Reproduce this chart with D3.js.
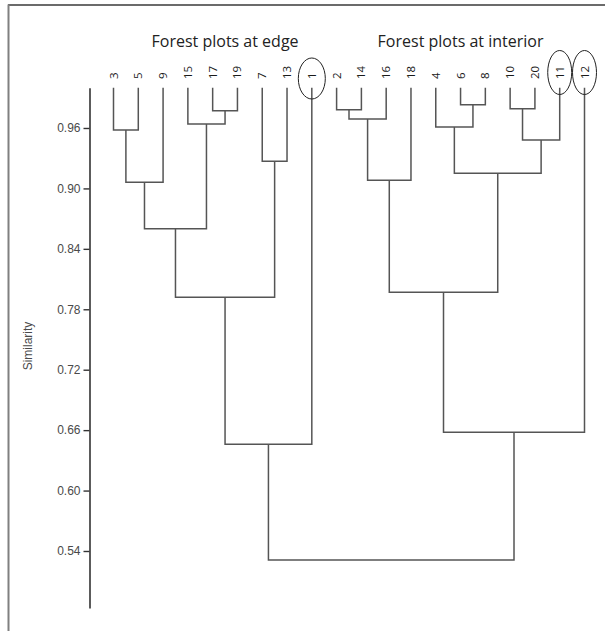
<!DOCTYPE html>
<html>
<head>
<meta charset="utf-8">
<script src="https://cdn.jsdelivr.net/npm/d3@7"></script>
<style>
  body { margin: 0; background: #fff; }
  svg { display: block; }
</style>
</head>
<body>
<script>
const width = 605;
const height = 631;

// leaf order along the bottom of the dendrogram
const leaves = ["3", "5", "9", "15", "17", "19", "7", "13", "1",
                "2", "14", "16", "18", "4", "6", "8", "10", "20", "11", "12"];

// merges: [id, left child, right child, similarity]
const merges = [
  ["m1", "3", "5", 0.958],
  ["m2", "m1", "9", 0.906],
  ["m3", "17", "19", 0.977],
  ["m4", "15", "m3", 0.964],
  ["m5", "m2", "m4", 0.860],
  ["m6", "7", "13", 0.927],
  ["m7", "m5", "m6", 0.792],
  ["m8", "m7", "1", 0.646],
  ["m9", "2", "14", 0.978],
  ["m10", "m9", "16", 0.969],
  ["m11", "m10", "18", 0.908],
  ["m12", "6", "8", 0.983],
  ["m13", "4", "m12", 0.961],
  ["m14", "10", "20", 0.979],
  ["m15", "m14", "11", 0.948],
  ["m16", "m13", "m15", 0.915],
  ["m17", "m11", "m16", 0.797],
  ["m18", "m17", "12", 0.658],
  ["m19", "m8", "m18", 0.531]
];

const tickValues = [0.96, 0.90, 0.84, 0.78, 0.72, 0.66, 0.60, 0.54];
const circled = ["1", "11", "12"];
// each title is centred between two leaves
const groupTitles = [
  { text: "Forest plots at edge", from: "17", to: "19" },
  { text: "Forest plots at interior", from: "6", to: "6" }
];

const svg = d3.select("body")
  .append("svg")
  .attr("width", width)
  .attr("height", height);

// frame lines (top and left)
svg.append("line")
  .attr("x1", 8).attr("x2", width).attr("y1", 5).attr("y2", 5)
  .attr("stroke", "#3a3a3a").attr("stroke-width", 1.5);
svg.append("line")
  .attr("x1", 8.5).attr("x2", 8.5).attr("y1", 4.5).attr("y2", height)
  .attr("stroke", "#808080").attr("stroke-width", 2);

const x = d3.scalePoint()
  .domain(leaves)
  .range([113.5, 584.5]);

const y = d3.scaleLinear()
  .domain([1.0, 0.4834])
  .range([87.7, 608]);

// build the tree from the merge list
const parentOf = {};
merges.forEach(([id, a, b]) => { parentOf[a] = id; parentOf[b] = id; });
const rows = leaves.map(l => ({ id: l, parent: parentOf[l], sim: 1.0 }))
  .concat(merges.map(([id, a, b, s]) => ({ id, parent: parentOf[id], sim: s, kids: [a, b] })));

const root = d3.stratify()
  .id(d => d.id)
  .parentId(d => d.parent)(rows);

// sort children in the order given by the merge rows
root.eachAfter(n => {
  if (n.children) {
    const order = n.data.kids;
    n.children.sort((p, q) => order.indexOf(p.id) - order.indexOf(q.id));
    n.px = d3.mean(n.children, c => c.px);
  } else {
    n.px = x(n.id);
  }
  n.py = y(n.data.sim);
});

// y axis
const axis = svg.append("g")
  .attr("transform", "translate(89.5,0)")
  .call(d3.axisLeft(y).tickValues(tickValues).tickFormat(d3.format(".2f")).tickSize(6).tickSizeOuter(0));
axis.select(".domain").attr("stroke", "#333").attr("stroke-width", 1.6);
axis.selectAll(".tick line").attr("stroke", "#333").attr("stroke-width", 1.4);
axis.selectAll(".tick text")
  .attr("x", -9)
  .attr("fill", "#4a4a4a")
  .style("font-family", "Liberation Sans, Arial, sans-serif")
  .style("font-size", "12px");

svg.append("text")
  .attr("transform", "translate(32,346) rotate(-90)")
  .attr("text-anchor", "middle")
  .attr("fill", "#4a4a4a")
  .style("font-family", "Liberation Sans, Arial, sans-serif")
  .style("font-size", "12px")
  .text("Similarity");

// dendrogram links
svg.append("g")
  .selectAll("path")
  .data(root.descendants().filter(n => n.children))
  .join("path")
  .attr("fill", "none")
  .attr("stroke", "#555")
  .attr("stroke-width", 1.5)
  .attr("d", n => {
    const [a, b] = n.children;
    return `M${a.px},${a.py}V${n.py}H${b.px}V${b.py}`;
  });

// leaf labels
svg.append("g")
  .selectAll("text")
  .data(leaves)
  .join("text")
  .attr("transform", d => `translate(${x(d)},79) rotate(-90)`)
  .attr("dy", "0.35em")
  .attr("fill", "#1a1a1a")
  .style("font-family", "Open Sans, Lato, sans-serif")
  .style("font-size", "11.5px")
  .text(d => d);

// ellipses around the outlier leaves
svg.append("g")
  .selectAll("ellipse")
  .data(circled)
  .join("ellipse")
  .attr("cx", d => x(d))
  .attr("cy", d => d === "1" ? 78.5 : 72.5)
  .attr("rx", d => d === "1" ? 13.5 : 12)
  .attr("ry", d => d === "1" ? 20.5 : 22)
  .attr("fill", "none")
  .attr("stroke", "#222")
  .attr("stroke-width", 1);

// group titles
svg.append("g")
  .selectAll("text")
  .data(groupTitles)
  .join("text")
  .attr("x", d => (x(d.from) + x(d.to)) / 2)
  .attr("y", 47)
  .attr("text-anchor", "middle")
  .attr("fill", "#222")
  .style("font-family", "Open Sans, Lato, sans-serif")
  .style("font-size", "16px")
  .text(d => d.text);
</script>
</body>
</html>
